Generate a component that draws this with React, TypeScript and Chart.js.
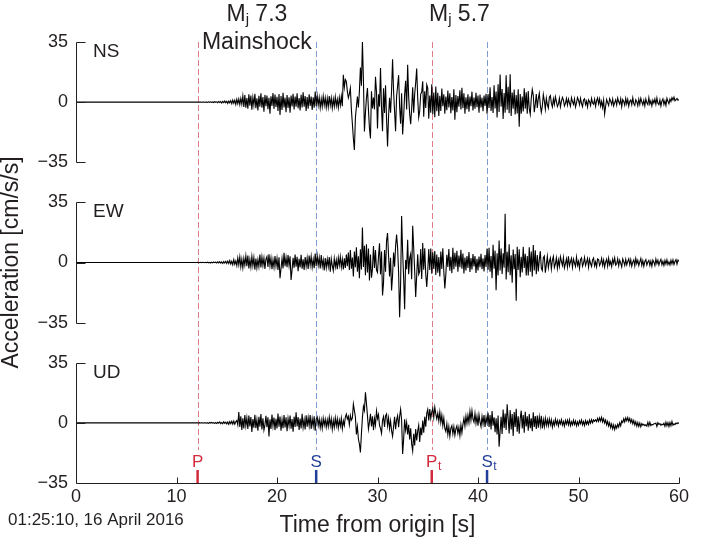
import React, { useEffect, useRef } from "react";
import { Chart, registerables } from "chart.js";

Chart.register(...registerables);

// ---------------- data ----------------
const RECORD_START = 0; // s, flat (zero) part of the record begins here
const START_TIME = 12.0; // s, time of the first listed sample
const SAMPLE_STEP = 0.1; // s between listed samples

// acceleration, cm/s/s, one row per second (t.0 ... t.9)
const NS_ACC = [
  0,0.1,-0.1,0.1,0,-0.1,0.1,0,-0.1,0.1,
  0,-0.2,0.2,-0.1,0.2,-0.2,0.1,-0.2,0.3,-0.1,
  0.2,-0.3,0.4,-0.2,0.3,-0.5,0.4,-0.3,0.6,-0.4,
  0.5,-0.7,0.6,-0.4,0.8,-0.9,1.2,-0.6,1.1,-1.3,
  1.6,-0.9,1.8,-1.4,2.1,-1.2,3.6,-2.8,4.1,-3.3,
  2.4,-3.8,4.6,-2.1,3.9,-4.4,2.7,-1.8,4.8,-3.5,
  2.2,-4.9,3.7,-2.6,5.1,-3.3,2.9,-5.6,4.2,-2.4,
  3.8,-4.1,2.5,-6.7,3.4,-2.2,5.3,-3.9,4.4,-2.8,
  3.1,-5.2,4.7,-7.4,3.6,-4.6,5.4,-3.1,2.6,-5.8,
  4.1,-3.4,2.8,-6.2,3.9,-2.5,4.8,-4.3,3.2,-2.7,
  5.2,-3.6,2.4,-4.8,4.3,-3.1,5.7,-2.6,3.5,-5.1,
  2.9,-3.8,4.6,-2.2,3.3,-4.5,2.8,-3.2,6.2,-2.4,
  3.6,-1.8,2.7,-3.3,1.9,-2.6,3.4,-1.7,2.5,-3.1,
  2.2,-2.8,3.6,-1.9,2.4,-3.4,1.8,-2.5,3.1,-2.2,
  1.6,-3.1,2.7,-1.8,3.3,-2.4,15.9,8.6,13.2,12.1,
  6.3,2.5,4.8,8.1,-4.2,-12.6,-21.3,-27.8,-9.1,-2.8,
  3.2,-3.1,6.4,20.1,9.5,35.0,12.8,-17.1,-6.1,2.4,
  8.2,-4.5,-15.2,-21.1,6.3,-3.7,2.6,-4.2,14.8,6.1,
  -15.3,4.6,-2.6,19.8,-3.4,-16.9,8.1,-6.3,9.8,-9.6,
  -25.8,-8.4,2.6,-6.2,6.8,24.9,6.2,-5.5,-16.9,3.4,
  9.4,15.7,-2.8,-12.6,5.1,-18.8,-8.9,4.4,12.4,-4.3,
  21.8,3.2,-6.7,-12.9,-3.8,8.6,-6.1,4.7,11.2,19.6,
  2.4,-8.9,-5.1,4.7,5.9,12.1,-8.5,6.3,-3.4,10.1,
  8.2,-9.6,3.9,-6.2,10.4,-7.1,5.6,-8.8,9.1,-5.3,
  5.4,-8.1,3.7,-5.2,7.9,-2.4,4.6,-6.8,3.2,-4.7,
  6.8,-3.1,5.2,-6.4,2.9,-4.8,7.5,-10.2,4.1,-5.9,
  3.6,-2.7,6.9,-4.3,8.4,-3.5,5.2,-6.7,2.8,-4.1,
  4.5,-5.6,3.2,-2.4,6.1,-4.9,2.7,-3.8,5.4,-2.9,
  3.8,-6.2,4.4,-3.1,2.6,-5.3,3.9,-2.2,4.8,-6.8,
  4.7,-3.4,8.6,-5.2,2.9,-6.3,9.8,-3.7,6.2,-8.9,
  10.4,-5.8,16.1,-2.6,7.7,-9.8,5.3,-6.2,15.6,-4.4,
  8.9,-6.5,16.2,-8.1,5.6,-3.9,7.4,-7.2,4.1,-6.6,
  7.5,-14.3,4.7,-6.8,3.2,-5.4,8.1,-3.9,5.8,-6.7,
  6.4,-3.9,-7.1,2.2,7.3,4.1,-5.8,-1.2,4.7,-3.4,
  2.1,5.2,-1.6,-5.9,-2.4,4.4,0.8,-4.1,2.3,-1.5,
  -3.5,2.9,3.8,-0.6,-2.8,1.9,-1.3,3.1,0.4,-2.6,
  -1.2,2.2,-2.7,0.5,2.8,1.1,-2.2,-0.7,2.1,-1.7,
  1.8,-0.4,-2.4,2.6,0.3,-1.3,1.9,-2.9,-0.6,2.7,
  1.1,-1.5,2.3,-0.8,-2.6,1.2,1.9,-1.4,0.6,-2.8,
  1.4,0.3,-1.9,2.2,-0.5,-1.2,1.7,-2.4,0.8,2.4,
  -1.1,1.9,-2.3,0.4,-3.1,1.2,-6.8,-2.4,1.6,-0.3,
  -1.9,2.1,0.6,-1.4,1.8,-2.2,-0.3,1.3,-1.7,2.4,
  0.2,-1.2,1.9,-2.6,1.5,0.4,-1.8,2.2,-1.1,1.6,
  -2.3,0.5,1.2,-1.5,2.5,-0.9,-1.9,1.4,0.3,-2.1,
  1.7,-1.3,2.3,0.2,-1.6,1.1,-2.2,1.8,-0.4,-1.4,
  2.6,-1.1,0.7,-2.1,1.2,-0.5,1.8,-1.3,2.4,-0.7,
  -1.5,1.3,-2.2,0.6,1.9,-1.4,0.8,-1.9,2.2,0.5,
  -0.9,1.8,0.4,2.6,1.2,2.9,0.8,1.5,2.2,1.1,
  1.4,
];

const EW_ACC = [
  0,0.1,-0.1,0,0.1,-0.1,0.1,0,-0.1,0.1,
  -0.1,0.2,-0.2,0.1,-0.3,0.2,-0.2,0.3,-0.1,0.2,
  -0.3,0.4,-0.2,0.5,-0.4,0.3,-0.6,0.5,-0.3,0.7,
  -0.5,0.8,-0.6,1.1,-0.9,0.7,-1.3,1.6,-1.1,0.9,
  -1.8,2.6,-1.4,3.3,-2.5,1.9,-3.1,2.4,-1.6,3.8,
  -2.2,4.1,-3.4,1.8,-2.7,3.5,-1.9,2.8,-4.2,2.3,
  -3.1,1.7,-2.4,4.6,-2.9,3.2,-1.8,2.6,-3.7,1.9,
  3.4,-2.6,4.8,-1.9,2.7,-3.9,1.6,-2.8,3.7,-2.1,
  2.5,-4.3,3.1,-9.2,-3.5,2.3,-3.4,5.6,-2.2,2.9,
  -2.7,4.4,-1.8,3.6,-10.1,-4.2,2.8,-3.1,4.7,-2.4,
  3.3,-5.1,2.1,-2.9,4.5,-3.6,1.9,-4.4,3.2,-2.3,
  2.6,-3.8,4.1,-1.7,3.5,-2.8,1.8,-3.3,5.2,-2.1,
  3.9,-1.6,2.8,-3.4,4.3,-2.2,1.5,-4.6,2.6,-3.1,
  1.9,-2.4,3.2,-5.3,2.1,-1.8,-4.7,2.3,-2.6,1.4,
  -3.9,2.8,-1.6,3.4,-2.7,1.9,-4.1,2.5,-3.2,4.6,
  -2.1,5.8,-4.4,7.2,-3.6,2.9,-8.1,6.4,-2.7,8.9,
  -5.3,3.6,-9.2,7.7,-4.1,20.3,-2.6,9.8,-7.4,10.6,
  -5.8,8.2,-10.4,4.6,-8.9,-3.7,9.6,-3.2,7.3,-4.5,
  -5.8,3.4,11.2,-6.9,6.4,-19.2,-11.8,7.3,-5.4,12.6,
  17.1,4.1,-8.2,2.7,-16.3,-7.6,5.8,-2.4,9.5,16.2,
  8.6,-5.7,-31.8,-12.4,27.1,6.3,-8.8,-27.2,1.5,-3.9,
  13.2,-6.8,2.4,4.9,-9.8,21.4,8.5,-5.1,-20.1,-7.6,
  4.8,-6.8,-5.2,7.9,-9.6,11.4,-4.2,8.3,-6.7,-14.2,
  -5.1,7.8,-4.3,8.2,-6.6,5.9,-3.8,6.7,-7.2,4.6,
  -5.9,3.2,-8.1,6.4,-3.7,8.3,-5.4,-15.1,-6.9,4.5,
  -2.6,7.9,-4.8,3.3,-6.2,8.6,-3.9,5.7,-2.4,6.8,
  -5.3,4.1,-2.7,7.4,-3.6,5.2,-6.4,2.9,-4.7,3.8,
  -3.2,6.1,-5.5,2.6,-4.1,4.9,-2.3,3.7,-6.1,2.2,
  -4.6,3.4,-2.8,5.1,-3.9,2.4,-5.2,4.3,-2.6,8.1,
  -4.2,8.6,-5.4,3.8,-9.1,10.3,-3.6,6.9,-16.2,5.4,
  -7.5,12.8,-4.6,8.2,-6.7,5.4,-3.1,28.4,-9.9,6.3,
  -5.7,10.6,-7.4,4.2,-11.8,7.5,-3.9,4.9,-22.2,9.1,
  -4.4,7.7,-8.6,3.3,-5.8,9.2,-3.2,5.1,-7.5,3.8,
  -7.6,8.9,-5.3,6.4,-8.2,10.2,-4.6,7.1,-6.8,4.3,
  -5.2,1.6,6.6,-3.4,-4.7,2.8,3.8,-5.9,-1.2,3.6,
  -3.1,0.6,2.6,-3.8,1.2,3.5,-2.9,-0.8,2.7,-3.3,
  1.4,-2.2,3.4,0.7,-1.7,2.8,-3.1,-0.6,2.1,-2.6,
  3.6,-1.9,0.4,2.4,-2.8,1.9,-0.3,-2.3,3.2,-1.6,
  0.7,-3.4,1.8,2.7,-2.2,-0.4,2.9,-1.7,0.2,2.4,
  -2.7,1.9,-0.6,-2.3,1.5,2.6,-1.9,0.4,-2.5,2.1,
  1.7,-1.8,-0.4,2.4,-1.6,1.4,-2.7,0.3,1.9,-2.1,
  2.5,-1.3,0.6,-2.4,1.9,-0.5,2.7,-1.5,-0.8,2.2,
  -1.9,1.3,-0.4,-2.6,2.1,0.5,-1.7,1.8,-1.4,0.6,
  2.1,-1.3,1.6,-2.2,0.2,1.5,-1.9,2.4,-0.7,1.3,
  -1.8,0.4,2.3,-1.6,1.1,-2.2,0.6,1.7,-1.5,0.3,
  1.2,-1.7,0.8,-2.1,1.4,0.2,-1.8,1.9,-0.6,1.3,
  -1.5,0.5,1.8,-1.3,0.7,-1.7,1.2,-0.9,1.6,-1.2,
  0.4,-1.4,1.3,-0.8,1.5,-1.1,0.6,1.7,-0.9,1.4,
  0.6,
];

const UD_ACC = [
  0,0.1,-0.1,0.1,-0.1,0,0.1,-0.1,0.1,0,
  -0.2,0.1,-0.3,0.2,-0.1,0.3,-0.2,0.1,-0.3,0.2,
  -0.4,0.3,-0.2,0.5,-0.4,0.2,-0.5,0.6,-0.3,0.4,
  -0.6,0.5,-0.8,0.7,-0.5,0.9,-0.7,1.1,-0.8,0.6,
  1.4,-1.2,6.3,-2.4,3.8,-4.1,2.6,-3.2,4.5,-1.8,
  2.9,-3.6,4.2,-2.1,3.4,-5.3,2.2,-2.8,4.7,-3.1,
  1.8,-4.6,3.5,-2.3,5.1,-3.8,2.6,-4.2,-1.2,4.1,
  -2.5,3.3,-7.9,2.1,-3.6,4.9,-1.9,3.1,-4.2,2.4,
  -3.3,5.4,-2.2,3.7,-4.5,1.9,-3.1,4.6,-2.7,3.2,
  -4.9,2.6,-1.8,4.3,-3.4,2.2,-5.1,3.6,-2.4,6.2,
  -2.1,3.4,-4.1,2.5,-3.2,5.3,-2.6,1.8,-3.9,4.4,
  -2.3,3.1,-1.7,4.6,-3.5,2.4,-1.9,3.8,-4.6,2.2,
  3.4,-1.5,2.2,-2.8,1.6,-3.2,2.7,-1.4,2.1,-2.5,
  1.8,-2.1,3.3,-1.6,2.4,-3.7,1.5,-2.6,2.9,-1.8,
  2.3,-2.9,1.6,-1.8,2.7,-3.4,1.2,-1.5,3.4,5.1,
  2.2,3.8,-1.1,4.3,1.6,2.8,10.9,7.2,3.4,-6.8,
  -2.2,-9.4,-12.3,-17.2,-6.4,3.1,9.6,7.2,17.8,11.4,
  4.2,-3.6,0.4,5.3,-2.1,3.8,-4.2,2.6,-1.3,6.9,
  2.4,4.8,-1.5,-3.2,-6.1,1.4,3.6,-2.4,4.1,5.2,
  -1.6,2.9,-3.4,1.2,-4.6,-7.8,-2.1,3.5,-3.7,1.8,
  4.2,-2.5,3.7,7.9,1.4,-18.1,-9.6,2.1,-4.3,0.2,
  -6.8,-1.1,-9.6,-3.2,-12.2,-16.3,-6.4,-13.1,-3.6,-10.2,
  -4.8,-1.4,-11.1,-2.7,-7.2,1.4,-5.8,3.6,-2.3,5.5,
  7.8,1.4,8.1,2.6,6.2,8.4,3.1,9.1,5.2,2.3,
  5.6,1.1,6.3,0.2,4.4,-1.6,2.8,-3.4,-5.1,-0.6,
  -6.8,-2.2,-7.9,-3.1,-1.6,-6.4,-2.3,-7.2,-3.5,-1.8,
  -6.1,-2.6,-7.4,-1.2,-5.8,-0.9,2.6,-1.8,3.9,-0.4,
  4.4,0.2,6.8,1.6,7.1,2.2,0.4,5.5,-0.2,3.9,
  -1.6,4.8,0.5,-2.2,3.7,-0.6,4.6,-2.4,3.2,0.1,
  5.8,-2.4,4.6,-3.8,6.9,-1.6,3.2,-5.4,2.6,-6.8,
  4.3,-13.9,-5.2,3.6,-6.4,7.8,-2.9,5.4,-4.1,10.8,
  2.6,-6.2,7.4,-3.8,5.1,-7.6,6.3,-2.4,8.2,-5.1,
  3.9,-6.3,2.4,7.1,-3.2,4.6,-5.8,6.4,-2.1,3.8,
  -4.6,5.2,-3.1,2.6,-4.8,6.1,-2.4,3.9,-3.6,4.2,
  -2.8,3.4,-1.6,4.1,-3.3,1.8,-2.2,2.7,-1.4,1.9,
  -1.6,2.3,-1.1,1.8,-2.4,0.9,-1.5,2.1,-0.8,1.4,
  -1.8,1.2,-0.6,1.9,-1.3,0.8,-1.9,1.4,-0.7,1.6,
  -1.1,1.8,-1.6,0.7,-1.2,1.5,-0.9,1.1,-1.7,0.6,
  -1.3,1.2,-0.5,1.6,-1.1,0.8,-1.5,1.3,-0.8,0.9,
  -0.9,1.6,-0.2,1.9,0.1,1.7,0.9,1.8,0.7,2.6,
  0.9,2.9,1.1,3.2,0.6,2.4,-0.1,1.6,-1.1,0.8,
  -1.9,0.1,-2.8,-0.7,-3.5,-1.2,-3.9,-1.5,-3.1,-0.8,
  -2.4,0.1,-1.7,1.1,0.2,2.4,0.5,2.9,1.2,3.1,
  0.9,2.6,0.1,1.9,-0.5,1.3,-1.2,0.6,-1.9,0.2,
  -2.1,-0.1,-2.3,-0.4,-1.3,-0.8,-1.6,-1.1,-1.9,0.3,
  -1.8,0.4,-1.6,-0.9,-1.2,-0.5,-0.5,-0.1,-2.1,0.1,
  -0.9,-0.4,-1.4,-0.8,-1.1,-0.2,-2.0,0.4,-1.7,0.1,
  -2.1,0.2,-1.6,0.8,-1.4,-0.5,-1.0,-0.1,-0.5,0.1,
  -0.4,
];

const COMPONENT_NAMES = ["NS", "EW", "UD"];
const Y_TICK_VALUES = [-35, 0, 35];
const X_TICK_VALUES = [0, 10, 20, 30, 40, 50, 60];

const PHASE_TIMES = [12.1, 23.9, 35.4, 40.9];
const PHASE_LETTERS = ["P", "S", "P", "S"];
const PHASE_SUBSCRIPTS = ["", "", "t", "t"];

const EVENT_MAGNITUDES = ["7.3", "5.7"];
const EVENT_NOTES = ["Mainshock", ""];
const EVENT_PHASE_PAIRS = [[0, 1], [2, 3]];

const ORIGIN_LABEL = "01:25:10, 16 April 2016";
const X_TITLE = "Time from origin [s]";
const Y_TITLE = "Acceleration [cm/s/s]";

// ---------------- styling / layout ----------------
const FONT = "'Liberation Sans', Arial, Helvetica, sans-serif";
const INK = "#231f20";
const P_DASH = "#de7c88";
const S_DASH = "#7f9dd0";
const P_SOLID = "#d22b3d";
const S_SOLID = "#223f97";

const W = 704;
const H = 550;

const AMP = 35; // half-height of each panel (value units)
const PANEL_STEP = (70 * 160) / 120; // value units from one panel centre to the next
const panelOffset = (k: number) => (COMPONENT_NAMES.length - 1 - k) * PANEL_STEP;

const formatTick = (value: number) => {
  for (let k = 0; k < COMPONENT_NAMES.length; k++) {
    const v = Math.round(value - panelOffset(k));
    if (Math.abs(v) <= AMP) return v < 0 ? "\u2212" + Math.abs(v) : String(v);
  }
  return "";
};

const crisp = (p: number) => Math.round(p) + 0.5;

const decorPlugin = {
  id: "decor",
  beforeDatasetsDraw(chart: any) {
    const { ctx, chartArea: a, scales } = chart;
    const x = scales.x;
    ctx.save();
    ctx.lineWidth = 1;
    ctx.setLineDash([6, 3]);
    PHASE_TIMES.forEach((t, i) => {
      const px = crisp(x.getPixelForValue(t));
      ctx.strokeStyle = PHASE_LETTERS[i] === "P" ? P_DASH : S_DASH;
      ctx.beginPath();
      ctx.moveTo(px, a.top);
      ctx.lineTo(px, a.bottom - 33);
      ctx.stroke();
    });
    ctx.restore();
  },
  afterDraw(chart: any) {
    const { ctx, chartArea: a, scales } = chart;
    const x = scales.x;
    const y = scales.y;
    ctx.save();

    // axes: one left spine per panel with inward ticks
    ctx.strokeStyle = INK;
    ctx.lineWidth = 1;
    ctx.setLineDash([]);
    const left = crisp(a.left);
    ctx.beginPath();
    COMPONENT_NAMES.forEach((_, k) => {
      const off = panelOffset(k);
      ctx.moveTo(left, crisp(y.getPixelForValue(off + AMP)));
      ctx.lineTo(left, crisp(y.getPixelForValue(off - AMP)));
      Y_TICK_VALUES.forEach((v) => {
        const yy = crisp(y.getPixelForValue(off + v));
        ctx.moveTo(left, yy);
        ctx.lineTo(left + 9, yy);
      });
    });
    // bottom axis with inward ticks
    const bottom = crisp(a.bottom);
    ctx.moveTo(left, bottom);
    ctx.lineTo(crisp(x.getPixelForValue(60)), bottom);
    X_TICK_VALUES.forEach((v) => {
      if (v === 0) return;
      const xx = crisp(x.getPixelForValue(v));
      ctx.moveTo(xx, bottom);
      ctx.lineTo(xx, bottom - 6);
    });
    ctx.stroke();

    // panel names
    ctx.fillStyle = INK;
    ctx.font = `19px ${FONT}`;
    ctx.textAlign = "left";
    ctx.textBaseline = "alphabetic";
    COMPONENT_NAMES.forEach((name, k) => {
      const yy = y.getPixelForValue(panelOffset(k) + AMP) + 15;
      ctx.fillText(name, a.left + 17, yy);
    });

    // phase markers at the bottom
    PHASE_TIMES.forEach((t, i) => {
      const px = x.getPixelForValue(t);
      const col = PHASE_LETTERS[i] === "P" ? P_SOLID : S_SOLID;
      ctx.strokeStyle = col;
      ctx.lineWidth = 2.5;
      ctx.beginPath();
      ctx.moveTo(px, a.bottom - 13);
      ctx.lineTo(px, a.bottom);
      ctx.stroke();
      ctx.fillStyle = col;
      ctx.font = `17px ${FONT}`;
      ctx.textAlign = "center";
      ctx.textBaseline = "alphabetic";
      const base = a.bottom - 16;
      ctx.fillText(PHASE_LETTERS[i], px, base);
      if (PHASE_SUBSCRIPTS[i]) {
        const w = ctx.measureText(PHASE_LETTERS[i]).width;
        ctx.font = `12px ${FONT}`;
        ctx.textAlign = "left";
        ctx.fillText(PHASE_SUBSCRIPTS[i], px + w / 2 + 0.5, base + 3);
      }
    });

    // event labels above
    ctx.fillStyle = INK;
    ctx.textBaseline = "alphabetic";
    EVENT_MAGNITUDES.forEach((mag, i) => {
      const [p0, p1] = EVENT_PHASE_PAIRS[i];
      const cx = (x.getPixelForValue(PHASE_TIMES[p0]) + x.getPixelForValue(PHASE_TIMES[p1])) / 2;
      const big = `23px ${FONT}`;
      const small = `15px ${FONT}`;
      ctx.font = big;
      const wM = ctx.measureText("M").width;
      const wRest = ctx.measureText(" " + mag).width;
      ctx.font = small;
      const wj = ctx.measureText("j").width;
      let sx = cx - (wM + wj + wRest) / 2;
      const base = 21;
      ctx.textAlign = "left";
      ctx.font = big;
      ctx.fillText("M", sx, base);
      sx += wM;
      ctx.font = small;
      ctx.fillText("j", sx, base + 3);
      sx += wj;
      ctx.font = big;
      ctx.fillText(" " + mag, sx, base);
      if (EVENT_NOTES[i]) {
        ctx.textAlign = "center";
        ctx.fillText(EVENT_NOTES[i], cx, 49);
      }
    });

    // origin time label
    ctx.font = `17px ${FONT}`;
    ctx.textAlign = "left";
    ctx.textBaseline = "middle";
    ctx.fillStyle = INK;
    ctx.fillText(ORIGIN_LABEL, 8, 520);

    ctx.restore();
  },
};

export default function App() {
  const ref = useRef<HTMLCanvasElement>(null);

  useEffect(() => {
    if (!ref.current) return;
    Chart.defaults.font.family = FONT;
    const traces = [NS_ACC, EW_ACC, UD_ACC];
    const datasets = traces.map((vals, k) => {
      const off = panelOffset(k);
      const pts = [{ x: RECORD_START, y: off }].concat(
        vals.map((v, i) => ({ x: START_TIME + i * SAMPLE_STEP, y: v + off }))
      );
      return {
        label: COMPONENT_NAMES[k],
        data: pts,
        borderColor: "#000000",
        borderWidth: 1.1,
        pointRadius: 0,
        tension: 0,
        fill: false,
      };
    });

    const chart = new Chart(ref.current, {
      type: "line",
      data: { datasets },
      options: {
        animation: false,
        responsive: false,
        devicePixelRatio: 1,
        layout: { padding: { top: 42, right: 25, bottom: 0, left: 0 } },
        plugins: { legend: { display: false }, tooltip: { enabled: false } },
        scales: {
          x: {
            type: "linear",
            min: 0,
            max: 60,
            afterBuildTicks: (s: any) => {
              s.ticks = X_TICK_VALUES.map((v) => ({ value: v }));
            },
            afterFit: (s: any) => {
              s.height = 67;
            },
            ticks: {
              autoSkip: false,
              maxRotation: 0,
              padding: 3,
              color: INK,
              font: { size: 18, family: FONT },
              callback: (v: any) => String(v),
            },
            grid: { display: false, drawTicks: false },
            border: { display: false },
            title: {
              display: true,
              text: X_TITLE,
              color: INK,
              font: { size: 23, family: FONT, lineHeight: 1.05 },
              padding: { top: 0, bottom: 12 },
            },
          },
          y: {
            type: "linear",
            min: -AMP,
            max: AMP + 2 * PANEL_STEP,
            afterBuildTicks: (s: any) => {
              const t: any[] = [];
              COMPONENT_NAMES.forEach((_, k) =>
                Y_TICK_VALUES.forEach((v) => t.push({ value: panelOffset(k) + v }))
              );
              s.ticks = t.sort((p, q) => p.value - q.value);
            },
            afterFit: (s: any) => {
              s.width = 76;
            },
            ticks: {
              autoSkip: false,
              padding: 8,
              color: INK,
              font: { size: 18, family: FONT },
              callback: (v: any) => formatTick(Number(v)),
            },
            grid: { display: false, drawTicks: false },
            border: { display: false },
            title: {
              display: true,
              text: Y_TITLE,
              color: INK,
              font: { size: 23, family: FONT, lineHeight: 1.05 },
              padding: 0,
            },
          },
        },
      },
      plugins: [decorPlugin],
    } as any);

    return () => chart.destroy();
  }, []);

  return (
    <div style={{ position: "absolute", left: 0, top: 0, width: W, height: H }}>
      <canvas ref={ref} width={W} height={H} style={{ display: "block" }} />
    </div>
  );
}
